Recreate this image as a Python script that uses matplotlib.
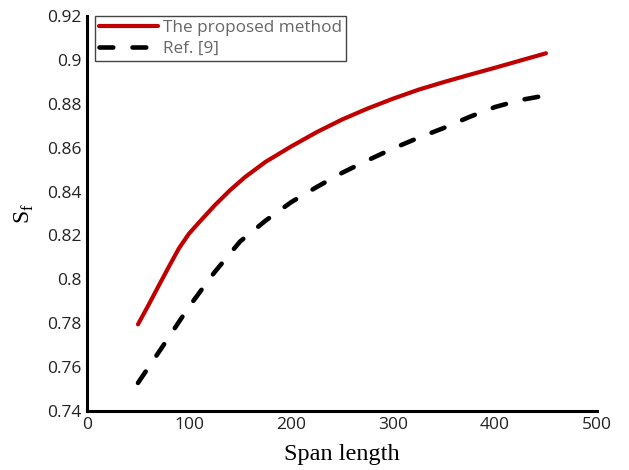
import matplotlib
matplotlib.use("Agg")
import matplotlib.pyplot as plt

span_p = [50, 60, 70, 80, 90, 100, 110, 125, 140, 155, 175, 200, 225, 250, 275, 300, 325, 350, 375, 400, 425, 450]
proposed = [0.7795, 0.7880, 0.7968, 0.8055, 0.8140, 0.8208, 0.8260, 0.8336, 0.8405, 0.8466, 0.8535, 0.8605,
            0.8670, 0.8728, 0.8778, 0.8823, 0.8864, 0.8899, 0.8932, 0.8964, 0.8997, 0.9030]
span_r = [50, 75, 100, 125, 150, 175, 200, 225, 250, 275, 300, 325, 350, 375, 400, 425, 450]
ref9 = [0.7528, 0.7700, 0.7875, 0.8032, 0.8172, 0.8267, 0.8351, 0.8420, 0.8485, 0.8542, 0.8596,
        0.8645, 0.8690, 0.8740, 0.8785, 0.8817, 0.8838]

xticks = [0, 100, 200, 300, 400, 500]
yticks = [0.74, 0.76, 0.78, 0.80, 0.82, 0.84, 0.86, 0.88, 0.90, 0.92]
yticklabels = ["0.74", "0.76", "0.78", "0.8", "0.82", "0.84", "0.86", "0.88", "0.9", "0.92"]

fig = plt.figure(figsize=(6.29, 4.70), dpi=100)
ax = fig.add_axes([0.1383, 0.1255, 0.949 - 0.1383, 0.966 - 0.1255])

ax.plot(span_p, proposed, color="#c00000", lw=3.0, label="The proposed method",
        solid_capstyle="round", solid_joinstyle="round")
ax.plot(span_r, ref9, color="black", lw=3.3, ls=(0, (3.0, 4.2)), label="Ref. [9]",
        dash_capstyle="round", dash_joinstyle="round")

ax.set_xlim(0, 500)
ax.set_ylim(0.74, 0.92)
ax.set_xticks(xticks)
ax.set_yticks(yticks)
ax.set_yticklabels(yticklabels)
for s in ["top", "right"]:
    ax.spines[s].set_visible(False)
for s in ["left", "bottom"]:
    ax.spines[s].set_linewidth(2.2)
ax.tick_params(length=0, labelsize=12.5, colors="#222222", pad=4)
for lab in ax.get_xticklabels() + ax.get_yticklabels():
    lab.set_fontfamily("Open Sans")

ax.set_xlabel("Span length", fontsize=17.5, family="Liberation Serif", labelpad=8)
ax.set_ylabel(r"S$_\mathregular{f}$", fontsize=17, family="Liberation Serif", labelpad=8)

leg = ax.legend(loc="upper left", bbox_to_anchor=(0.016, 1.0), fancybox=False, framealpha=1,
                edgecolor="#444444", prop={"family": "Open Sans", "size": 12.3},
                handlelength=3.4, borderpad=0.25, labelspacing=0.25, borderaxespad=0.0,
                handletextpad=0.3)
leg.get_frame().set_linewidth(1.0)
for t in leg.get_texts():
    t.set_color("#666666")

fig.savefig("out.png", dpi=100)
